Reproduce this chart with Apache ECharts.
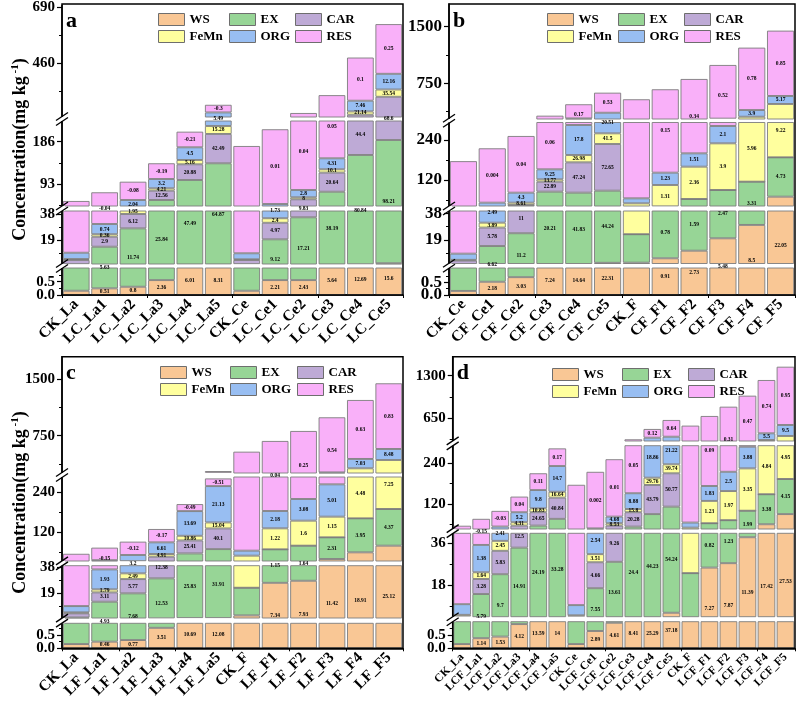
<!DOCTYPE html>
<html><head><meta charset="utf-8">
<script src="https://cdn.jsdelivr.net/npm/echarts@6/dist/echarts.min.js"></script>
<style>html,body{margin:0;padding:0;background:#fff}#c{width:798px;height:710px}</style>
</head><body><div id="c"></div>
<script>
const FONT = "'Liberation Serif','Times New Roman',serif";
const names = ['WS','EX','CAR','FeMn','ORG','RES'];
const colors = ['#F9C795','#97D596','#BEAAD6','#FFFF9E','#98BEF2','#F9B0F9'];

// ---------- Panel a ----------
const catsA = ['CK_La','LC_La1','LC_La2','LC_La3','LC_La4','LC_La5','CK_Ce','LC_Ce1','LC_Ce2','LC_Ce3','LC_Ce4','LC_Ce5'];
const wsA   = [0.16,0.25,0.31,0.56,1.2,1.2,0.16,0.56,0.56,1.2,1.3,2.0];
const exA   = [1.24,13.85,27.2,57.24,100.6,137.3,1.24,18.94,35.04,74.8,155.5,187.7];
const carA  = [3.0,7.3,10.5,20.5,34.5,64.5,3.0,12.1,23.7,42,89.2,130.6];
const femnA = [0.7,1.8,3.5,5.2,9.5,17.5,0.5,3.3,4.4,7.3,13.5,30.1];
const orgA  = [4.6,7.5,16.3,20.5,27.9,34.9,4.4,14.1,16.1,24.2,44.5,65];
const resA  = [45.9,44,40.2,34.5,34.3,31.6,167.2,164.3,173.2,177.5,178.7,205.7];
const lWsA  = ['','0.51','0.8','2.36','6.01','8.31','','2.21','2.43','5.64','12.69','15.6'];
const lExA  = ['','5.63','11.74','25.84','47.49','64.87','','9.12','17.21','38.19','80.84','98.21'];
const lCarA = ['','2.9','6.12','12.56','20.88','42.49','','4.97','9.83','20.64','44.4','68.6'];
const lFeA  = ['','0.36','1.95','4.21','5.16','15.28','','2.4','8','10.1','21.14','35.54'];
const lOrgA = ['','0.74','2.04','3.2','4.5','5.49','','1.73','2.8','4.31','7.46','12.16'];
const lResA = ['','-0.04','-0.08','-0.19','-0.21','-0.3','','0.01','0.04','0.05','0.1','0.25'];
const ticksA = [[0,0.5],[19,38],[93,186],[460,690]];

// ---------- Panel b ----------
const catsB = ['CK_Ce','CF_Ce1','CF_Ce2','CF_Ce3','CF_Ce4','CF_Ce5','CK_F','CF_F1','CF_F2','CF_F3','CF_F4','CF_F5'];
const wsB   = [0.16,0.52,0.70,1.5,1.5,2.8,2.9,6.0,11.4,20.2,29.7,70];
const exB   = [1.24,14.2,23.1,83.5,80.5,85.2,20.2,35,51.6,69.8,85.3,118];
const carB  = [3.0,13.1,21.2,30,91,140,0,0,0,0,0,0];
const femnB = [0.5,3.5,7,7,22,32,26.9,64,97,140,192,288];
const orgB  = [4.4,20.7,30,30,90,100,15,37,40,52,89,106];
const resB  = [167.2,163,170,169,187,265.5,473,528.5,607,710.5,826,865];
const lWsB  = ['','2.18','3.03','7.24','14.64','22.31','','0.91','2.73','5.48','8.5','22.05'];
const lExB  = ['','6.62','11.2','20.21','41.83','44.24','','0.78','1.59','2.47','3.31','4.73'];
const lCarB = ['','5.78','11','22.89','47.24','72.65','','','','','',''];
const lFeB  = ['','3.89','8.61','13.77','26.98','41.5','','1.31','2.36','3.9','5.96','9.22'];
const lOrgB = ['','2.49','4.3','9.25','17.8','20.51','','1.23','1.51','2.1','3.9','5.17'];
const lResB = ['','0.004','0.04','0.06','0.17','0.53','','0.15','0.34','0.52','0.78','0.85'];
const ticksB = [[0,0.5],[19,38],[120,240],[750,1500]];

// ---------- Panel c ----------
const catsC = ['CK_La','LF_La1','LF_La2','LF_La3','LF_La4','LF_La5','CK_F','LF_F1','LF_F2','LF_F3','LF_F4','LF_F5'];
const wsC   = [0.16,0.25,0.31,0.77,0.97,0.97,2.9,26.7,28.2,40,60,80];
const exC   = [1.24,12.65,18.7,29.2,55.7,68.7,20.2,42.3,51.8,65,102,110];
const carC  = [3.0,6.8,10.4,17,39,62,0,0,0,0,0,0];
const femnC = [0.7,2.2,4.2,8,14,18,26.9,63,75,62,156,238];
const orgC  = [4.6,14.6,18.4,35,74,109,15,52,65,97,124,146];
const resC  = [45.9,37.5,40,40,21,23,473,496,592,729,780,869];
const lWsC  = ['','0.46','0.77','3.51','10.69','12.08','','7.34','7.93','11.42','18.91','25.12'];
const lExC  = ['','4.93','7.68','12.53','25.83','31.91','','1.15','1.64','2.31','3.95','4.37'];
const lCarC = ['','3.11','5.77','12.38','25.41','40.1','','','','','',''];
const lFeC  = ['','1.79','2.49','4.91','10.86','15.04','','1.22','1.6','1.15','4.48','7.25'];
const lOrgC = ['','1.93','3.2','6.61','13.69','21.13','','2.18','3.08','5.01','7.03','8.48'];
const lResC = ['','-0.15','-0.12','-0.17','-0.49','-0.51','','0.04','0.25','0.54','0.63','0.83'];
const ticksC = [[0,0.5],[19,38],[120,240],[750,1500]];

// ---------- Panel d ----------
const catsD = ['CK_La','LCF_La1','LCF_La2','LCF_La3','LCF_La4','LCF_La5','CK_Ce','LCF_Ce1','LCF_Ce2','LCF_Ce3','LCF_Ce4','LCF_Ce5','CK_F','LCF_F1','LCF_F2','LCF_F3','LCF_F4','LCF_F5'];
const wsD   = [0.16,0.38,0.44,0.91,2.5,2.5,0.16,0.65,0.96,2.5,2.5,6,2.9,25.5,27.4,38.6,60,90];
const exD   = [1.24,13.7,22.2,33.2,53.5,73.5,1.24,15.95,27.04,50.5,87.5,106,20.2,37.5,44.6,61.4,88.6,103.7];
const carD  = [3.0,6.5,10.1,21.9,39.5,62.6,3.0,11.2,28,42.5,86,98.5,0,0,0,0,0,0];
const femnD = [0.7,2.9,4.3,10,11.5,17.4,0.5,3.5,7,9.5,21.5,26.5,26.9,66,86,125,170.4,186.3];
const orgD  = [4.6,11.8,16.2,29.5,54,76,4.4,16.5,19.6,46.6,156.5,132,15,44,57,64,102,168];
const resD  = [45.9,40.7,46.2,46.1,49.5,52,167.2,167,169.4,177.4,133,255,473,512,612,706,813,889];
const lWsD  = ['','1.14','1.53','4.12','13.59','14','','2.89','4.61','8.41','25.29','37.18','','7.27','7.87','11.39','17.42','27.53'];
const lExD  = ['','5.79','9.7','14.91','24.19','33.28','','7.55','13.61','24.4','44.23','54.24','','0.82','1.23','1.99','3.38','4.15'];
const lCarD = ['','3.28','5.83','12.5','24.65','40.84','','4.66','9.26','20.28','43.79','50.77','','','','','',''];
const lFeD  = ['','1.64','2.45','4.31','10.83','16.64','','3.51','8.53','15.8','29.76','39.74','','1.23','1.97','3.35','4.84','4.95'];
const lOrgD = ['','1.38','2.41','5.2','9.8','14.7','','2.54','4.68','8.88','18.86','21.22','','1.83','2.5','3.88','5.5','9.5'];
const lResD = ['','-0.15','-0.03','0.04','0.11','0.17','','0.002','0.01','0.05','0.12','0.64','','0.09','0.31','0.47','0.74','0.95'];
const ticksD = [[0,0.5],[18,36],[120,240],[650,1300]];

// ---------- layout (segments: bottom -> top; value range + pixel band) ----------
const panels = [
  {letter:'a', cats:catsA, vals:[wsA,exA,carA,femnA,orgA,resA], lbls:[lWsA,lExA,lCarA,lFeA,lOrgA,lResA], ticks:ticksA,
   left:62, right:403, tickFont:15, xFont:15.5, legX:[153,224,290], legTop:8, title:true,
   segs:[{min:0,max:1.015,top:268,bottom:295},{min:1.46,max:40.2,top:211,bottom:264},{min:44.6,max:231.5,top:121,bottom:206},{min:236.5,max:698,top:4,bottom:117}]},
  {letter:'b', cats:catsB, vals:[wsB,exB,carB,femnB,orgB,resB], lbls:[lWsB,lExB,lCarB,lFeB,lOrgB,lResB], ticks:ticksB,
   left:449, right:795, tickFont:17, xFont:15.5, legX:[542,613,679], legTop:8, title:false,
   segs:[{min:0,max:1.06,top:268,bottom:295},{min:2.3,max:39.6,top:211,bottom:263.5},{min:42,max:292.5,top:122.5,bottom:206},{min:277,max:1800,top:4,bottom:119}]},
  {letter:'c', cats:catsC, vals:[wsC,exC,carC,femnC,orgC,resC], lbls:[lWsC,lExC,lCarC,lFeC,lOrgC,lResC], ticks:ticksC,
   left:62, right:403, tickFont:15, xFont:15.5, legX:[155,225,292], legTop:361, title:true,
   segs:[{min:0,max:0.94,top:623.3,bottom:648.3},{min:1.0,max:39.2,top:565.7,bottom:618},{min:34,max:286,top:477,bottom:561},{min:256,max:1795,top:356.7,bottom:473}]},
  {letter:'d', cats:catsD, vals:[wsD,exD,carD,femnD,orgD,resD], lbls:[lWsD,lExD,lCarD,lFeD,lOrgD,lResD], ticks:ticksD,
   left:452.7, right:795, tickFont:15, xFont:11.5, legX:[547,617,683], legTop:363, title:false,
   segs:[{min:0,max:1.0,top:621.7,bottom:648.3},{min:4.3,max:40.3,top:533.3,bottom:616.7},{min:46,max:292,top:445.7,bottom:529},{min:303.5,max:1590,top:356.7,bottom:441}]}
];

function v2y(segs, v){
  for (let j=0;j<segs.length;j++){
    const s=segs[j];
    if (v>=s.min && v<=s.max) return s.bottom-(v-s.min)/(s.max-s.min)*(s.bottom-s.top);
    if (j+1<segs.length){
      const t=segs[j+1];
      if (v>s.max && v<t.min) return s.top-(v-s.max)/(t.min-s.max)*(s.top-t.bottom);
    }
  }
  const last=segs[segs.length-1];
  return v>last.max ? last.top : segs[0].bottom;
}
function placeLabel(segs, lo, hi){
  const yLo=v2y(segs,lo), yHi=v2y(segs,hi), mid=(yLo+yHi)/2;
  let best=null, bestD=1e9;
  segs.forEach((s,j)=>{
    const vt=Math.max(yHi,s.top), vb=Math.min(yLo,s.bottom);
    if (vb-vt<0.5) return;
    const d = mid<s.top ? s.top-mid : (mid>s.bottom ? mid-s.bottom : 0);
    if (d<bestD){bestD=d; best={seg:j, dy:mid-(vt+vb)/2};}
  });
  return best;
}

const grid=[], xAxis=[], yAxis=[], series=[], legend=[], graphic=[];
const txt = {fontFamily:FONT, fontWeight:'bold', color:'#000'};

panels.forEach((P,pi)=>{
  const n=P.cats.length;
  const W=P.right-P.left;
  const place = names.map(()=>[]);
  for (let i=0;i<n;i++){
    let c=0;
    for (let k=0;k<6;k++){
      const lo=c, hi=c+P.vals[k][i]; c=hi;
      place[k][i] = P.lbls[k][i] ? placeLabel(P.segs, lo, hi) : null;
    }
  }
  const fg=grid.length;
  const top=P.segs[P.segs.length-1].top, bottom=P.segs[0].bottom;
  grid.push({left:P.left, top:top, width:W, height:bottom-top, show:true, borderColor:'#000', borderWidth:1.5, backgroundColor:'transparent', z:3});
  xAxis.push({gridIndex:fg, type:'value', show:false});
  yAxis.push({gridIndex:fg, type:'value', show:false});

  P.segs.forEach((S,si)=>{
    const gi=grid.length;
    grid.push({left:P.left, top:S.top, width:W, height:S.bottom-S.top});
    const xi=xAxis.length;
    xAxis.push({gridIndex:gi, type:'category', position:'bottom', data:P.cats, show:si===0,
      axisLine:{lineStyle:{color:'#000', width:1.5}},
      axisTick:{alignWithLabel:true, length:5, lineStyle:{color:'#000', width:1.2}},
      axisLabel:Object.assign({interval:0, rotate:45, fontSize:P.xFont, margin:7}, txt)});
    if (si===0){
      xAxis.push({gridIndex:gi, type:'category', position:'bottom', offset:0, data:P.cats,
        axisLine:{show:false}, axisLabel:{show:false},
        axisTick:{show:true, length:3, lineStyle:{color:'#000', width:1}}});
    }
    const yi=yAxis.length;
    const major=P.ticks[si];
    const span=major[1]-major[0];
    const minor=[major[0]-span/2, major[0]+span/2, major[1]+span/2].filter(v=>v>=S.min && v<=S.max);
    const fmt = (v)=> si===0 ? Number(v).toFixed(1) : String(v);
    yAxis.push({gridIndex:gi, type:'value', position:'left', offset:0, min:S.min, max:S.max, splitLine:{show:false},
      axisLine:{show:true, lineStyle:{color:'#000', width:1.5}},
      axisTick:{show:true, customValues:major, length:5, lineStyle:{color:'#000', width:1.2}},
      axisLabel:Object.assign({customValues:[major[0]], fontSize:P.tickFont, margin:7, showMinLabel:true, showMaxLabel:true, formatter:fmt}, txt)});
    yAxis.push({gridIndex:gi, type:'value', position:'left', offset:0, min:S.min, max:S.max, splitLine:{show:false},
      axisLine:{show:false},
      axisTick:{show:true, customValues:minor, length:3, lineStyle:{color:'#000', width:1}},
      axisLabel:Object.assign({customValues:[major[1]], fontSize:P.tickFont, margin:7, showMinLabel:true, showMaxLabel:true, formatter:fmt}, txt)});
    names.forEach((nm,k)=>{
      series.push({type:'bar', name:nm, xAxisIndex:xi, yAxisIndex:yi, stack:'p'+pi+'s'+si, clip:true,
        barCategoryGap: n>12 ? '7%' : '6%',
        itemStyle:{color:colors[k], borderColor:'#7d7d7d', borderWidth:0.9},
        label:{show:false},
        emphasis:{disabled:true},
        data:P.vals[k].map((v,i)=>{
          const pl=place[k][i];
          if (pl && pl.seg===si) return {value:v, label:{show:true, position:'inside', formatter:P.lbls[k][i],
            offset:[0, pl.dy], fontSize:5.5, fontFamily:FONT, fontWeight:'bold', color:'#000'}};
          return v;
        })});
    });
  });

  [[0,3],[1,4],[2,5]].forEach((col,ci)=>{
    legend.push({orient:'vertical', left:P.legX[ci], top:P.legTop, itemWidth:26, itemHeight:12, itemGap:4,
      selectedMode:false, icon:'rect', data:col.map(k=>names[k]),
      itemStyle:{borderColor:'#6e6e6e', borderWidth:1},
      textStyle:Object.assign({fontSize:13}, txt)});
  });

  graphic.push({type:'text', left:P.left+4, top:top+6, z:100,
    style:{text:P.letter, font:'bold 22px '+FONT, fill:'#000'}});

  for (let j=0;j<P.segs.length-1;j++){
    const yc=(P.segs[j].top+P.segs[j+1].bottom)/2;
    const gapH=P.segs[j].top-P.segs[j+1].bottom;
    graphic.push({type:'rect', z:99, shape:{x:P.left-3, y:yc-gapH/2, width:6, height:gapH}, style:{fill:'#fff'}});
    [-2.5,2.5].forEach(o=>{
      graphic.push({type:'line', z:101, shape:{x1:P.left-6, y1:yc+o+4, x2:P.left+6, y2:yc+o-4},
        style:{stroke:'#000', lineWidth:1.3}});
    });
  }

  if (P.title){
    graphic.push({type:'text', z:100, x:20, y:(top+bottom)/2, rotation:Math.PI/2,
      style:{text:'{a|Concentration(mg kg}{s| -1}{a|)}', align:'center', verticalAlign:'middle',
        rich:{a:{fontSize:18, fontFamily:FONT, fontWeight:'bold', fill:'#000', color:'#000'},
              s:{fontSize:11, fontFamily:FONT, fontWeight:'bold', fill:'#000', color:'#000', verticalAlign:'top', padding:[0,0,10,0]}}}});
  }
});

const chart = echarts.init(document.getElementById('c'), null, {renderer:'canvas'});
chart.setOption({animation:false, backgroundColor:'#fff', grid, xAxis, yAxis, series, legend, graphic});
</script></body></html>
